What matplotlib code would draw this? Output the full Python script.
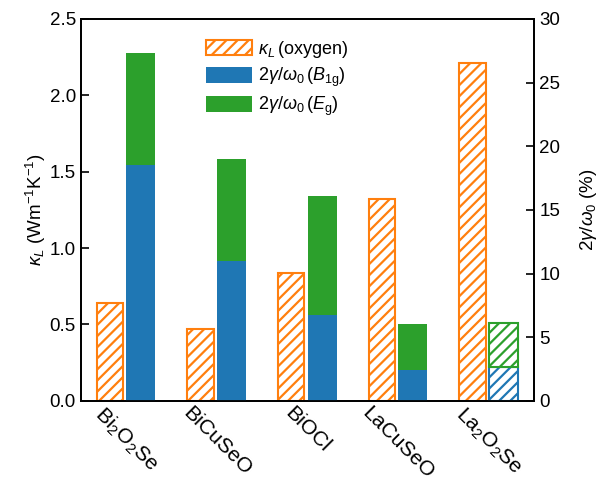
import numpy as np
import matplotlib
matplotlib.use("Agg")
import matplotlib.pyplot as plt
from matplotlib.patches import Patch

plt.rcParams["font.family"] = ["Liberation Sans", "DejaVu Sans"]
plt.rcParams["mathtext.fontset"] = "custom"
plt.rcParams["mathtext.rm"] = "Liberation Sans"
plt.rcParams["mathtext.it"] = "Liberation Sans:italic"
plt.rcParams["mathtext.bf"] = "Liberation Sans:bold"
plt.rcParams["hatch.linewidth"] = 1.6

# Compounds and measured quantities
compounds = [r"Bi$_2$O$_2$Se", "BiCuSeO", "BiOCl", "LaCuSeO", r"La$_2$O$_2$Se"]
kappa_L = [0.64, 0.47, 0.84, 1.32, 2.21]          # W m^-1 K^-1
ratio_B1g = [18.5, 10.95, 6.75, 2.45, 2.7]         # 2γ/ω0 (%), B1g mode
ratio_Eg_total = [27.3, 19.0, 16.1, 6.05, 6.15]    # stacked top (B1g + Eg), %
ratio_Eg = [t - b for t, b in zip(ratio_Eg_total, ratio_B1g)]
hatched_ratio = [False, False, False, False, True]

orange = "#ff7f0e"
blue = "#1f77b4"
green = "#2ca02c"

fig = plt.figure(figsize=(6.12, 4.83), dpi=100)
ax = fig.add_axes([0.132, 0.170, 0.741, 0.791])
ax2 = ax.twinx()

x = np.arange(len(compounds))
w_k = 0.29
w_r = 0.32

ax.bar(x - 0.18, kappa_L, width=w_k, facecolor="white", edgecolor=orange,
       hatch="///", linewidth=1.5, zorder=2)

for i in range(len(compounds)):
    if hatched_ratio[i]:
        ax2.bar(x[i] + 0.16, ratio_B1g[i], width=w_r, facecolor="white",
                edgecolor=blue, hatch="///", linewidth=1.5)
        ax2.bar(x[i] + 0.16, ratio_Eg[i], bottom=ratio_B1g[i], width=w_r,
                facecolor="white", edgecolor=green, hatch="///", linewidth=1.5)
    else:
        ax2.bar(x[i] + 0.16, ratio_B1g[i], width=w_r, color=blue)
        ax2.bar(x[i] + 0.16, ratio_Eg[i], bottom=ratio_B1g[i], width=w_r,
                color=green)

ax.set_xlim(-0.5, len(compounds) - 0.5)
ax.set_ylim(0, 2.5)
ax2.set_ylim(0, 30)
ax.set_yticks([0, 0.5, 1.0, 1.5, 2.0, 2.5])
ax2.set_yticks([0, 5, 10, 15, 20, 25, 30])

ax.set_xticks(x)
ax.set_xticklabels(compounds, rotation=-45, ha="center", va="top",
                   fontsize=15.2)
ax.tick_params(axis="x", length=0, pad=2)
ax.tick_params(axis="y", direction="in", length=6, width=1.2, labelsize=13.5)
ax2.tick_params(axis="y", direction="in", length=6, width=1.2, labelsize=13.5)

for a in (ax, ax2):
    for s in a.spines.values():
        s.set_linewidth(1.3)

ax.set_ylabel(r"$\kappa_L$ (Wm$^{-1}$K$^{-1}$)", fontsize=13.5, labelpad=1)
ax2.set_ylabel(r"2$\gamma/\omega_0$ (%)", fontsize=13.5, labelpad=13)

handles = [
    Patch(facecolor="white", edgecolor=orange, hatch="///", linewidth=1.5),
    Patch(facecolor=blue),
    Patch(facecolor=green),
]
labels = [r"$\kappa_L\,$(oxygen)", r"2$\gamma/\omega_0\,$($B_{\rm 1g}$)",
          r"2$\gamma/\omega_0\,$($E_{\rm g}$)"]
ax.legend(handles, labels, loc="upper left", bbox_to_anchor=(0.24, 0.99),
          frameon=False, fontsize=13, handlelength=2.55, handleheight=0.95,
          labelspacing=0.33, handletextpad=0.35)

fig.savefig("out.png", dpi=100)
